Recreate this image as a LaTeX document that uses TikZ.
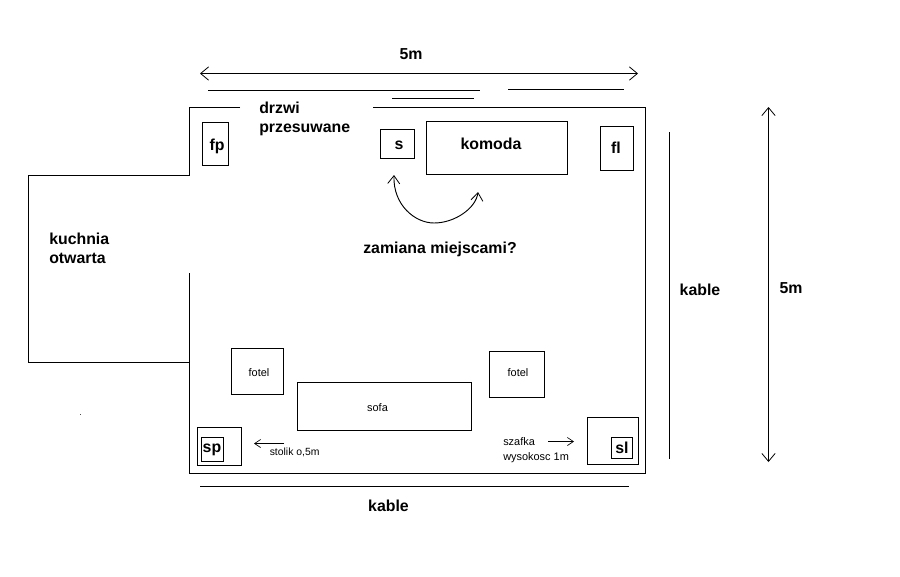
\documentclass[tikz,border=0pt]{standalone}
\usepackage{fontspec}
\setmainfont{Liberation Sans}
\usetikzlibrary{arrows.meta}
\tikzset{
  px/.style={x=0.75pt,y=-0.75pt},
  wall/.style={draw=black,line width=0.75pt,line cap=butt,line join=miter},
  cable/.style={draw=black,line width=0.75pt},
  dimline/.style={draw=black,line width=0.75pt,arrows={Straight Barb[length=6pt,width=10pt,line width=0.6pt]-Straight Barb[length=6pt,width=10pt,line width=0.6pt]}},
  smallarrow/.style={draw=black,line width=0.6pt,arrows={-Straight Barb[length=4.5pt,width=6pt,line width=0.5pt]}},
  bigt/.style={font=\fontsize{11.9}{14.25}\selectfont\bfseries,align=left,inner sep=0pt,text=black},
  smallt/.style={font=\fontsize{8.2}{10.9}\selectfont,align=left,inner sep=0pt,text=black},
  item/.style={draw=black,line width=0.75pt,fill=none}
}
\begin{document}
\begin{tikzpicture}[px]
\useasboundingbox[fill=white] (0,0) rectangle (900,576);
% walls
\coordinate (w1) at (240,107.5);
\coordinate (w2) at (373,107.5);
\draw[wall] (w1) -- (189.5,107.5) -- (189.5,175.5) -- (28.5,175.5) -- (28.5,362.5) -- (189.5,362.5) -- (189.5,273);
\draw[wall] (189.5,362.5) -- (189.5,473.5) -- (645.5,473.5) -- (645.5,107.5) -- (w2);
% furniture
\draw[item] (202.5,122.5) rectangle (228.5,165.5);
\node[bigt] (fp) at (217,146) {fp};
\draw[item] (380.5,129.5) rectangle (414.5,158.5);
\node[bigt] (s) at (399,145) {s};
\draw[item] (426.5,121.5) rectangle (567.5,174.5);
\node[bigt] (komoda) at (491,144) {komoda};
\draw[item] (600.5,126.5) rectangle (633.5,170.5);
\node[bigt] (fl) at (616,148) {fl};
\draw[item] (231.5,348.5) rectangle (283.5,394.5);
\node[smallt] (fotela) at (259,373) {fotel};
\draw[item] (489.5,351.5) rectangle (544.5,397.5);
\node[smallt] (fotelb) at (518,373) {fotel};
\draw[item] (297.5,382.5) rectangle (471.5,430.5);
\node[smallt] (sofa) at (377.5,407.5) {sofa};
\draw[item] (197.5,427.5) rectangle (241.5,465.5);
\draw[item] (201.5,437.5) rectangle (223.5,461.5);
\node[bigt] (sp) at (212,449.5) {sp};
\draw[item] (587.5,417.5) rectangle (638.5,464.5);
\draw[item] (611.5,437.5) rectangle (632.5,458.5);
\node[bigt] (sl) at (622,448) {sl};
% cables and dimensions
\coordinate (da) at (200,73.5);
\coordinate (db) at (638,73.5);
\draw[dimline] (da) -- (db);
\coordinate (ea) at (768.5,107);
\coordinate (eb) at (768.5,462);
\draw[dimline] (ea) -- (eb);
\coordinate (c1a) at (208,90.5);
\coordinate (c1b) at (480,90.5);
\draw[cable] (c1a) -- (c1b);
\coordinate (c2a) at (392,98.5);
\coordinate (c2b) at (474,98.5);
\draw[cable] (c2a) -- (c2b);
\coordinate (c3a) at (508,89.5);
\coordinate (c3b) at (624,89.5);
\draw[cable] (c3a) -- (c3b);
\coordinate (c4a) at (669.5,132);
\coordinate (c4b) at (669.5,459);
\draw[cable] (c4a) -- (c4b);
\coordinate (c5a) at (200,486.5);
\coordinate (c5b) at (629,486.5);
\draw[cable] (c5a) -- (c5b);
% small arrows
\coordinate (sa1) at (284,443.5);
\coordinate (sa2) at (254,443.5);
\draw[smallarrow] (sa1) -- (sa2);
\coordinate (sb1) at (548,441.5);
\coordinate (sb2) at (574,441.5);
\draw[smallarrow] (sb1) -- (sb2);
% swap arrow
\coordinate (sw1) at (394,175);
\coordinate (sw2) at (478,192);
\draw[draw=black,line width=0.7pt,arrows={Straight Barb[length=6pt,width=9pt,line width=0.6pt]-Straight Barb[length=6pt,width=9pt,line width=0.6pt]}]
  (sw1) .. controls (393,205) and (415,223) .. (434,223) .. controls (455,223) and (476,208) .. (sw2);
% dot
\fill[black!70] (80,413.5) rectangle (81,414.5);
% labels
\node[bigt] (t5a) at (411,54.5) {5m};
\node[bigt,anchor=north west] (drzwi) at (259,102) {drzwi\\przesuwane};
\node[bigt,anchor=north west] (kuchnia) at (49,232.5) {kuchnia\\otwarta};
\node[bigt] (zam) at (440,249) {zamiana miejscami?};
\node[bigt] (k1) at (700,290) {kable};
\node[bigt] (t5b) at (791,288.5) {5m};
\node[bigt] (k2) at (388.5,505.5) {kable};
\node[smallt,anchor=north west,font=\fontsize{7.8}{10.9}\selectfont] (stolik) at (269.5,447.5) {stolik o,5m};
\node[smallt,anchor=north west] (szafka) at (503,437.5) {szafka\\wysokosc 1m};
\end{tikzpicture}
\end{document}
